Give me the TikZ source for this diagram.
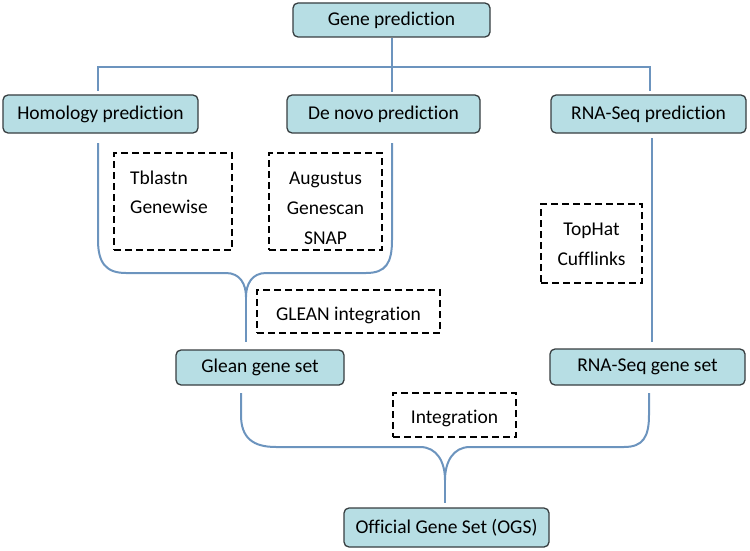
\documentclass[tikz,border=0pt]{standalone}
\usepackage{fontspec}
\setmainfont{Carlito}[Ligatures={NoCommon}]
\definecolor{boxfill}{RGB}{183,222,228}
\definecolor{boxdraw}{RGB}{55,62,64}
\definecolor{conn}{RGB}{108,148,190}
\begin{document}
\begin{tikzpicture}[x=1pt,y=-1pt,
  gbox/.style={draw=boxdraw,line width=1.3pt,fill=boxfill,rounded corners=5pt,
    inner sep=0pt,font=\fontsize{19.5}{23}\selectfont},
  dbox/.style={draw=black,line width=1.7pt,dash pattern=on 7pt off 4pt,inner sep=0pt},
  dtext/.style={font=\fontsize{19.5}{23}\selectfont,inner sep=0pt,anchor=base},
  link/.style={draw=conn,line width=2pt}]
\useasboundingbox (0,0) rectangle (750,551);
% main boxes
\node[gbox,minimum width=197pt,minimum height=34pt] (gp) at (391.5,20) {Gene prediction};
\node[gbox,minimum width=195pt,minimum height=38pt] (hom) at (100.5,114) {Homology prediction};
\node[gbox,minimum width=193pt,minimum height=38pt] (dn) at (383.5,114) {De novo prediction};
\node[gbox,minimum width=195pt,minimum height=38pt] (rnap) at (648.5,114) {RNA-Seq prediction};
\node[gbox,minimum width=168pt,minimum height=35pt] (glean) at (260,367.5) {Glean gene set};
\node[gbox,minimum width=195pt,minimum height=36pt] (rnags) at (647.5,367) {RNA-Seq gene set};
\node[gbox,minimum width=205pt,minimum height=39pt] (ogs) at (446.5,527.5) {Official Gene Set (OGS)};
% dashed boxes
\node[dbox,minimum width=118pt,minimum height=97pt] (tb) at (173,201.5) {};
\node[dtext,anchor=base west] (tbl1) at (130,184) {Tblastn};
\node[dtext,anchor=base west] (tbl2) at (130,213) {Genewise};
\node[dbox,minimum width=113pt,minimum height=97pt] (aug) at (325.5,201.5) {};
\node[dtext] (aug1) at (325.5,184) {Augustus};
\node[dtext] (aug2) at (325.5,214) {Genescan};
\node[dtext] (aug3) at (325.5,244) {SNAP};
\node[dbox,minimum width=183pt,minimum height=43pt] (gi) at (348.5,311.5) {};
\node[dtext] (git) at (348.5,320) {GLEAN integration};
\node[dbox,minimum width=101pt,minimum height=79pt] (th) at (591.5,243.5) {};
\node[dtext] (th1) at (591.5,235) {TopHat};
\node[dtext] (th2) at (591.5,265) {Cufflinks};
\node[dbox,minimum width=123pt,minimum height=44pt] (integ) at (454.5,415) {};
\node[dtext] (integt) at (454.5,423.5) {Integration};
% top tree
\coordinate (tj) at (392,67);
\coordinate (tl) at (98,67);
\coordinate (tr) at (650,67);
\draw[link] (gp.south -| tj) -- (392,92);
\draw[link] (98,91) -- (tl) -- (tr) -- (650,91);
% left bracket
\coordinate (c1) at (246,297);
\draw[link] (98,143) -- (98,240) .. controls (98,263) and (106,273) .. (126,273)
  -- (226,273) .. controls (240,273) and (246,284) .. (c1)
  .. controls (246,284) and (252,273) .. (266,273)
  -- (366,273) .. controls (386,273) and (392,263) .. (392,240) -- (392,143);
\draw[link] (c1) -- (246,342);
% right line
\draw[link] (652,138) -- (652,342);
% bottom bracket
\coordinate (c2) at (445,480);
\draw[link] (241,393) -- (241,415) .. controls (241,438) and (253,447) .. (276,447)
  -- (420,447) .. controls (437,447) and (445,462) .. (c2)
  .. controls (445,462) and (453,447) .. (470,447)
  -- (624,447) .. controls (643,447) and (649,437) .. (649,415) -- (649,393);
\draw[link] (c2) -- (445,503);
\end{tikzpicture}
\end{document}
